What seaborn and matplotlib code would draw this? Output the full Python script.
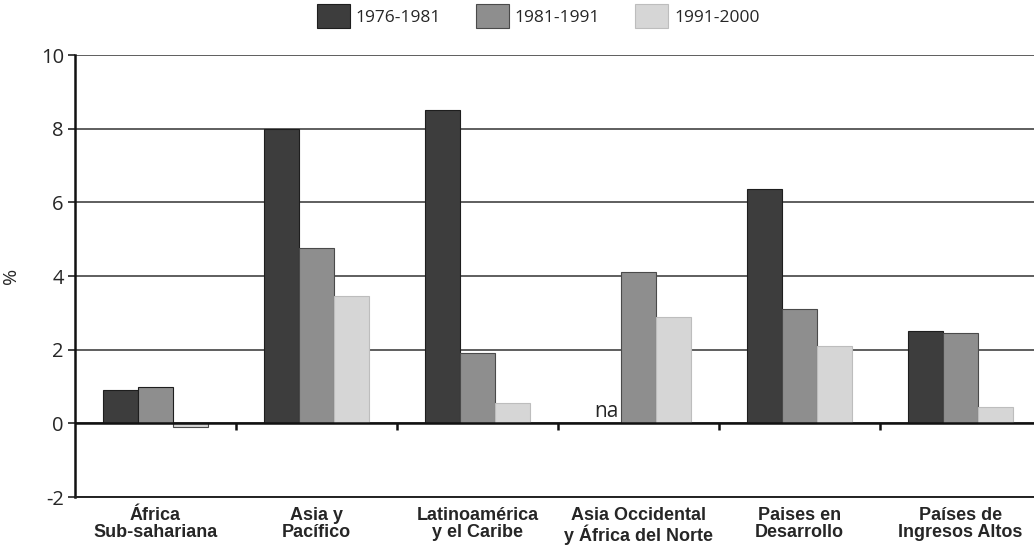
import numpy as np
import pandas as pd
import matplotlib
matplotlib.use("Agg")
import matplotlib.pyplot as plt
import seaborn as sns
from matplotlib.patches import Patch

# ==========================================
# Data
# ==========================================
regions = [
    "África\nSub-sahariana",
    "Asia y\nPacífico",
    "Latinoamérica\ny el Caribe",
    "Asia Occidental\ny África del Norte",
    "Paises en\nDesarrollo",
    "Países de\nIngresos Altos",
]
periods = ["1976-1981", "1981-1991", "1991-2000"]

vals_1976_1981 = [0.9, 8.0, 8.5, np.nan, 6.35, 2.5]   # na for Asia Occidental
vals_1981_1991 = [1.0, 4.75, 1.9, 4.1, 3.1, 2.45]
vals_1991_2000 = [-0.1, 3.45, 0.55, 2.9, 2.1, 0.45]

colors = ["#3d3d3d", "#8e8e8e", "#d6d6d6"]
edges = ["#1e1e1e", "#4a4a4a", "#bdbdbd"]

df = pd.DataFrame({
    "Region": regions * 3,
    "Periodo": np.repeat(periods, len(regions)),
    "Valor": vals_1976_1981 + vals_1981_1991 + vals_1991_2000,
})

sns.set_style("white")
plt.rcParams["font.family"] = ["Open Sans", "DejaVu Sans"]

fig = plt.figure(figsize=(10.34, 5.45), dpi=100)
ax = fig.add_axes([0.0725, 0.088, 0.934, 0.811])

BAR_W = 0.65
sns.barplot(data=df, x="Region", y="Valor", hue="Periodo", order=regions,
            hue_order=periods, palette=colors, width=BAR_W, saturation=1,
            ax=ax, legend=False)

# edge colours per series
n = len(regions)
for i, p in enumerate(ax.patches[:3 * n]):
    p.set_edgecolor(edges[i // n])
    p.set_linewidth(0.8)

ax.set_xlim(-0.5, n - 0.5)
ax.set_ylim(-2, 10)
ax.set_yticks([-2, 0, 2, 4, 6, 8, 10])
ax.set_yticklabels(["-2", "0", "2", "4", "6", "8", "10"], fontsize=14.5)
ax.yaxis.grid(True, color="#333333", linewidth=1.1)
ax.set_axisbelow(True)
ax.tick_params(axis="y", length=5, width=1.2, color="#222222", pad=3, left=True)

# category labels at the bottom
ax.set_xticks(range(n))
ax.set_xticklabels(regions, fontsize=13, fontweight="bold",
                   family="Liberation Sans", linespacing=1.05)
ax.tick_params(axis="x", length=0, pad=7)
ax.set_xlabel("")
ax.set_ylabel("%", fontsize=14)
ax.yaxis.set_label_coords(-0.057, 0.5)

# zero line with separator ticks between groups
ax.axhline(0, color="#111111", linewidth=1.8, zorder=3)
seps = np.arange(n - 1) + 0.5
ax.vlines(seps, -0.18, 0.0, color="#111111", linewidth=1.8, zorder=3)

for side in ["top", "right"]:
    ax.spines[side].set_visible(False)
ax.spines["left"].set_color("#111111")
ax.spines["left"].set_linewidth(1.8)
ax.spines["bottom"].set_color("#222222")
ax.spines["bottom"].set_linewidth(1.4)

# "na" marker for the missing bar
ax.text(3 - BAR_W / 3 + 0.02, 0.03, "na", ha="center", va="bottom", fontsize=15)

# legend on top
handles = [Patch(facecolor=c, edgecolor=e, linewidth=0.8) for c, e in zip(colors, edges)]
fig.legend(handles, periods, loc="center", bbox_to_anchor=(538 / 1034, 1 - 16 / 545),
           ncol=3, frameon=False, fontsize=12.5, handlelength=1.9, handleheight=1.7,
           handletextpad=0.35, columnspacing=2.0)

fig.savefig("out.png", dpi=100)
